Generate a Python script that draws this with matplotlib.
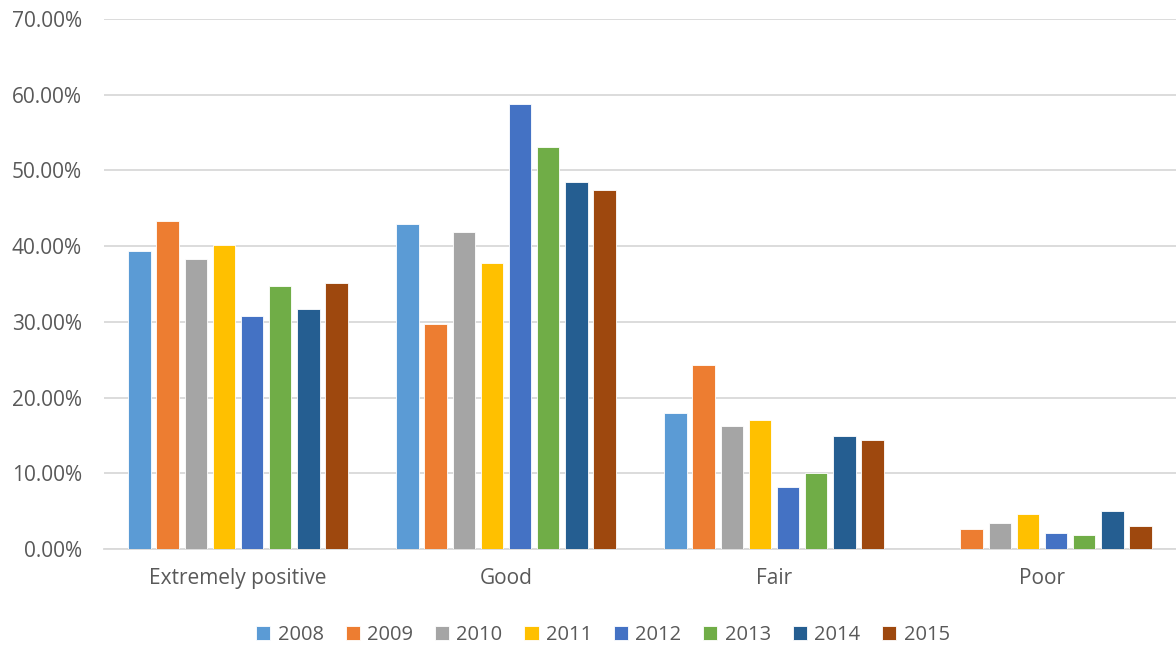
import numpy as np
import matplotlib
matplotlib.use("Agg")
import matplotlib.pyplot as plt
from matplotlib.ticker import FuncFormatter

plt.rcParams['font.family'] = ['Open Sans', 'DejaVu Sans']

categories = ['Extremely positive', 'Good', 'Fair', 'Poor']
years = ['2008', '2009', '2010', '2011', '2012', '2013', '2014', '2015']

# share of responses per year, one list per category
extremely_positive = [39.3, 43.3, 38.3, 40.2, 30.8, 34.7, 31.7, 35.1]
good = [42.9, 29.7, 41.9, 37.8, 58.8, 53.1, 48.5, 47.4]
fair = [17.9, 24.3, 16.3, 17.1, 8.2, 10.1, 14.9, 14.4]
poor = [0.0, 2.65, 3.5, 4.6, 2.05, 1.9, 5.0, 3.1]

colors = ['#5b9bd5', '#ed7d31', '#a5a5a5', '#ffc000',
          '#4472c4', '#70ad47', '#255e91', '#9e480e']

values = np.array([extremely_positive, good, fair, poor]) / 100.0

fig = plt.figure(figsize=(11.76, 6.45), dpi=100)
ax = fig.add_axes([104 / 1176, 1 - 549 / 645, 1 - 104 / 1176, (549 - 19) / 645])

x = np.arange(len(categories))
pitch = 0.105
width = 0.084
for i, yr in enumerate(years):
    offs = (i - 3.5) * pitch
    ax.bar(x + offs, values[:, i], width, color=colors[i], label=yr,
           edgecolor='white', linewidth=0.6, zorder=3)

ax.set_xlim(-0.5, 3.5)
ax.set_ylim(0, 0.70)
ax.set_yticks(np.arange(0, 0.71, 0.10))
ax.yaxis.set_major_formatter(FuncFormatter(lambda v, p: f'{v * 100:.2f}%'))
ax.set_xticks(x)
ax.set_xticklabels(categories)
ax.tick_params(axis='both', length=0, labelsize=15, colors='#595959')
ax.tick_params(axis='x', pad=14)
ax.tick_params(axis='y', pad=16)
ax.grid(axis='y', color='#d9d9d9', linewidth=1.3, zorder=0)
for s in ['top', 'right', 'left']:
    ax.spines[s].set_visible(False)
ax.spines['bottom'].set_color('#d9d9d9')
ax.spines['bottom'].set_linewidth(1.3)

leg = ax.legend(loc='center', bbox_to_anchor=(0.4655, -0.162), ncol=8, frameon=False,
                fontsize=14.5, handlelength=0.7, handleheight=0.7, handletextpad=0.35,
                columnspacing=1.1)
for t in leg.get_texts():
    t.set_color('#595959')

fig.savefig('out.png', dpi=100)
